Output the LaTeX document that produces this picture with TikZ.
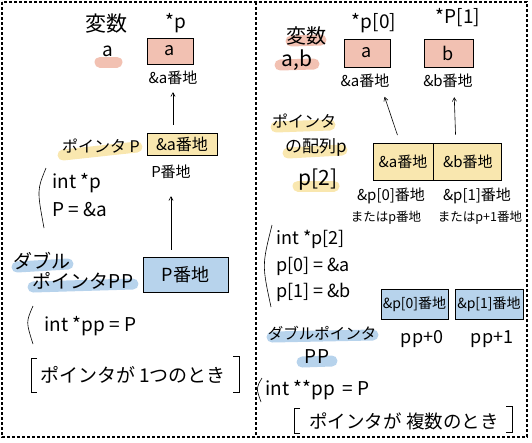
\documentclass[tikz,border=0pt]{standalone}
\usepackage{fontspec}
\setmainfont{Noto Sans CJK JP}
\usetikzlibrary{arrows}
\definecolor{box_pink}{RGB}{242,193,178}
\definecolor{box_yellow}{RGB}{249,231,175}
\definecolor{box_blue}{RGB}{183,211,236}
\newcommand{\fs}[1]{\fontsize{#1}{#1}\selectfont}

\begin{document}
\begin{tikzpicture}[x=1pt,y=-1pt,semithick,>=angle 60]
    \tikzstyle{cell}=[draw=black, thick, inner sep=0pt, text=black, font=\fs{18}]
    \tikzstyle{big}=[inner sep=1pt, font=\fs{19}]
    \tikzstyle{mid}=[inner sep=1pt, font=\fs{16}]
    \tikzstyle{small}=[inner sep=1pt, font=\fs{15}]
    \tikzstyle{tiny}=[inner sep=1pt, font=\fs{12.5}]
    \tikzstyle{hl}=[line width=11pt, line cap=round]
    \tikzstyle{frame}=[line width=1.1pt, dash pattern=on 3pt off 2pt]

    \useasboundingbox (0,0) rectangle (532,442);
    \draw[frame] (2,2) rectangle (527,437);
    \draw[frame] (256,2) -- (256,437);

    % highlights
    \draw[hl, box_pink]   (100,62) -- (117,62);
    \draw[hl, box_yellow] (63,155) -- (137,147);
    \draw[hl, box_blue]   (17,267) -- (68,264);
    \draw[hl, box_blue]   (33,287) -- (133,284);
    \draw[hl, box_pink]   (291,41) -- (321,40);
    \draw[hl, box_pink]   (280,65) -- (314,64);
    \draw[hl, box_yellow] (276,127) -- (330,125);
    \draw[hl, box_yellow] (288,153) -- (342,150);
    \draw[hl, box_yellow] (298,186) -- (334,186);
    \draw[hl, box_blue]   (272,337) -- (373,335);
    \draw[hl, box_blue]   (302,362) -- (332,361);

    % left: one pointer
    \node[big, font=\fs{21}] (varL) at (106,24) {変数};
    \node[big]  (starP)  at (176,23)  {*p};
    \node[big]  (nameA)  at (108,51)  {a};
    \node[cell, fill=box_pink, minimum width=46pt, minimum height=26pt] (a) at (170,51) {a};
    \node[small] (addrA) at (173,78) {\&a番地};
    \node[mid]  (ptrP)   at (101,146) {ポインタ P};
    \node[cell, fill=box_yellow, minimum width=70pt, minimum height=22pt] (p) at (182,144) {\fs{16}\&a番地};
    \node[small] (addrP) at (171,172) {P番地};
    \node[big, anchor=west] (declP)   at (51,183) {int *p};
    \node[big, anchor=west] (assignP) at (51,210) {P = \&a};
    \node[mid, font=\fs{19}] (dblL1) at (42,261) {ダブル};
    \node[mid, font=\fs{19}] (dblL2) at (83,281) {ポインタPP};
    \node[cell, fill=box_blue, minimum width=85pt, minimum height=35pt] (pp) at (185.5,274.5) {P番地};
    \node[big, anchor=west] (declPP) at (43,326) {int *pp = P};
    \node[big]  (noteL)  at (133,375) {ポインタが 1つのとき};

    \draw (46,168) .. controls (37,190) .. (44,228);
    \draw (33,306) .. controls (26,322) .. (33,344);
    \draw (37,358) -- (31,358) -- (31,392) -- (37,392);
    \draw (233,356) -- (239,356) -- (239,392) -- (233,392);

    \path[->]
     (p.north -| addrA.south) edge[shorten <=8pt, shorten >=6pt] (addrA.south)
     (pp.north -| addrP.south) edge[shorten <=7pt, shorten >=16pt] (addrP.south)
     ;

    % right: array of pointers
    \node[big, font=\fs{20}] (varR)    at (306,36)  {変数};
    \node[big, font=\fs{21}] (namesAB) at (297,60)  {a,b};
    \node[big]  (starP0)  at (374,23)  {*p[0]};
    \node[big]  (starP1)  at (458,18)  {*P[1]};
    \node[cell, fill=box_pink, minimum width=46pt, minimum height=28pt] (a2) at (367,53) {a};
    \node[cell, fill=box_pink, minimum width=49pt, minimum height=28pt] (b2) at (448.5,53) {b};
    \node[small] (addrA2) at (365,81) {\&a番地};
    \node[small] (addrB2) at (448,81) {\&b番地};
    \node[mid]  (ptrArr1) at (304,121) {ポインタ};
    \node[mid, font=\fs{17}] (ptrArr2) at (316,147) {の配列p};
    \node[big, font=\fs{21}] (ptrArr3) at (318,180) {p[2]};
    \node[cell, fill=box_yellow, minimum width=60pt, minimum height=37pt] (pa) at (403,161.5) {\fs{15}\&a番地};
    \node[cell, fill=box_yellow, minimum width=68pt, minimum height=37pt, anchor=west] (pb) at (pa.east) {\fs{15}\&b番地};
    \node[small] (addrP0) at (391,196) {\&p[0]番地};
    \node[small] (addrP1) at (477,196) {\&p[1]番地};
    \node[tiny]  (orP0)   at (386,218) {またはp番地};
    \node[tiny]  (orP1)   at (480,218) {またはp+1番地};
    \node[big, font=\fs{18}, anchor=west] (declArr) at (275,239) {int *p[2]};
    \node[big, font=\fs{18}, anchor=west] (setP0)   at (275,266) {p[0] = \&a};
    \node[big, font=\fs{18}, anchor=west] (setP1)   at (275,292) {p[1] = \&b};
    \node[cell, fill=box_blue, minimum width=67pt, minimum height=30pt] (q0) at (414.5,304) {\fs{14}\&p[0]番地};
    \node[cell, fill=box_blue, minimum width=68pt, minimum height=30pt] (q1) at (489,304) {\fs{14}\&p[1]番地};
    \node[big, font=\fs{18}] (ppPlus0) at (422,339) {pp+0};
    \node[big, font=\fs{18}] (ppPlus1) at (492,339) {pp+1};
    \node[mid, font=\fs{15.5}] (dblR1) at (322,333) {ダブルポインタ};
    \node[big]  (dblR2)   at (317,357) {PP};
    \node[big, anchor=west] (declPP2) at (264,390) {int **pp \,= P};
    \node[big, font=\fs{18.5}] (noteR) at (404,421) {ポインタが 複数のとき};

    \draw (272,225) .. controls (262,265) .. (271,307);
    \draw (262,378) .. controls (256,388) .. (261,402);
    \draw (300,408) -- (294,408) -- (294,433) -- (300,433);
    \draw (506,406) -- (512,406) -- (512,432) -- (506,432);

    \path[->]
     ([xshift=-3pt]pa.north) edge[shorten <=8pt, shorten >=8pt] ([xshift=17pt]addrA2.south)
     ([xshift=-12pt]pb.north) edge[shorten <=8pt, shorten >=8pt] ([xshift=6pt]addrB2.south)
     ;
  \end{tikzpicture}
\end{document}
